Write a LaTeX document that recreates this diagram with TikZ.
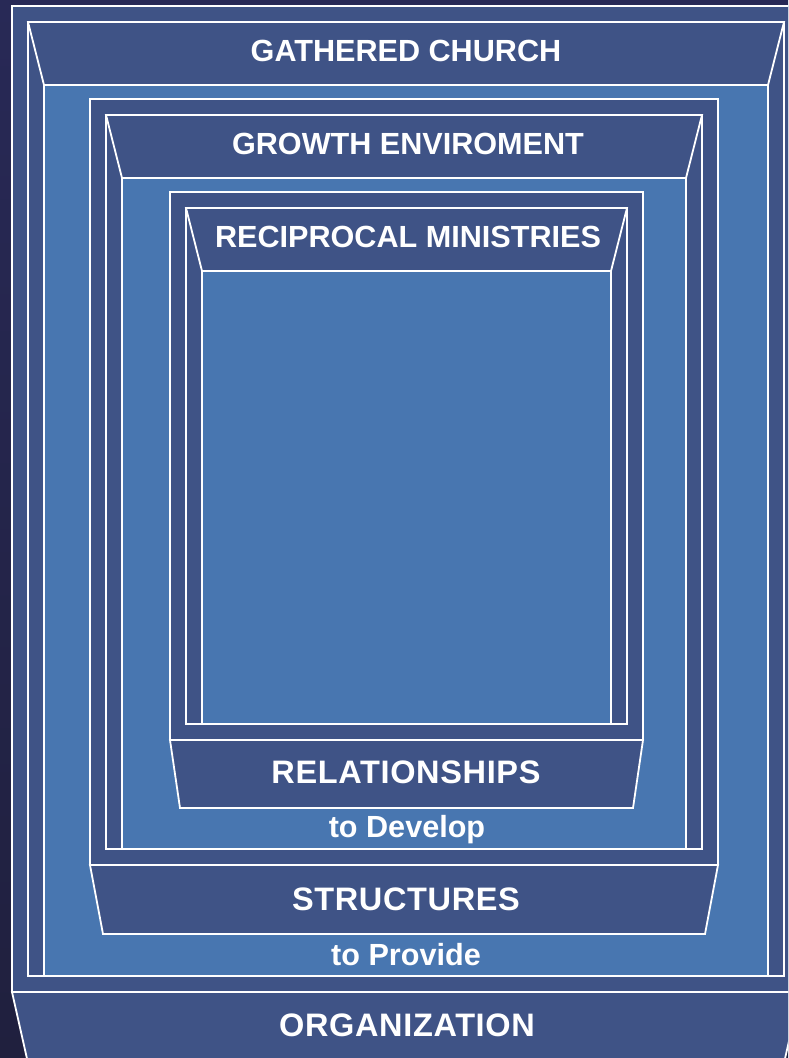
\documentclass[tikz,border=0pt]{standalone}
\usepackage{fontspec}
\setmainfont{Liberation Sans}
\newfontfamily\widefont[LetterSpace=2]{Liberation Sans}
\definecolor{bgtop}{RGB}{40,41,86}
\definecolor{bgbottom}{RGB}{32,32,62}
\definecolor{darkfill}{RGB}{63,83,134}
\definecolor{lightfill}{RGB}{72,118,176}

\begin{document}
\begin{tikzpicture} [x=1pt, y=-1pt,
  frame/.style={draw=white, line width=1.8pt, fill=darkfill, line join=miter},
  lbl/.style={text=white, font=\fontsize{30.6}{36}\selectfont\bfseries, inner sep=0},
  tablbl/.style={lbl, font=\fontsize{32.5}{38}\selectfont\widefont\bfseries}]
\useasboundingbox (0,0) rectangle (788,1058);
\clip (0,0) rectangle (788,1058);
\shade[top color=bgtop, bottom color=bgbottom] (0,0) rectangle (788,1058);
% three nested frames: outer box, lower tab, inner box, light field, upper tab
\foreach \l/\r/\t/\b/\s/\h in {12/800/6/992/18/80, 90/718/99/865/13/69, 170/643/192/740/10/68} {
 \draw[frame] (\l,\t) rectangle (\r,\b);
 \draw[frame] (\l,\b) -- (\r,\b) -- (\r-\s,\b+\h) -- (\l+\s,\b+\h) -- cycle;
 \draw[frame] (\l+16,\t+16) rectangle (\r-16,\b-16);
 \draw[frame, fill=lightfill] (\l+32,\t+79) rectangle (\r-32,\b-16);
 \draw[frame] (\l+16,\t+16) -- (\r-16,\t+16) -- (\r-32,\t+79) -- (\l+32,\t+79) -- cycle;
}
\node[lbl] (gathered) at (406,51) {GATHERED CHURCH};
\node[lbl] (growth) at (408,144) {GROWTH ENVIROMENT};
\node[lbl] (reciprocal) at (408,237) {RECIPROCAL MINISTRIES};
\node[tablbl] (relations) at (406,772) {RELATIONSHIPS};
\node[lbl] (develop) at (407,830) {to Develop};
\node[tablbl] (structures) at (406,899) {STRUCTURES};
\node[lbl] (provide) at (406,955) {to Provide};
\node[tablbl] (organization) at (407,1025) {ORGANIZATION};
\end{tikzpicture}
\end{document}
